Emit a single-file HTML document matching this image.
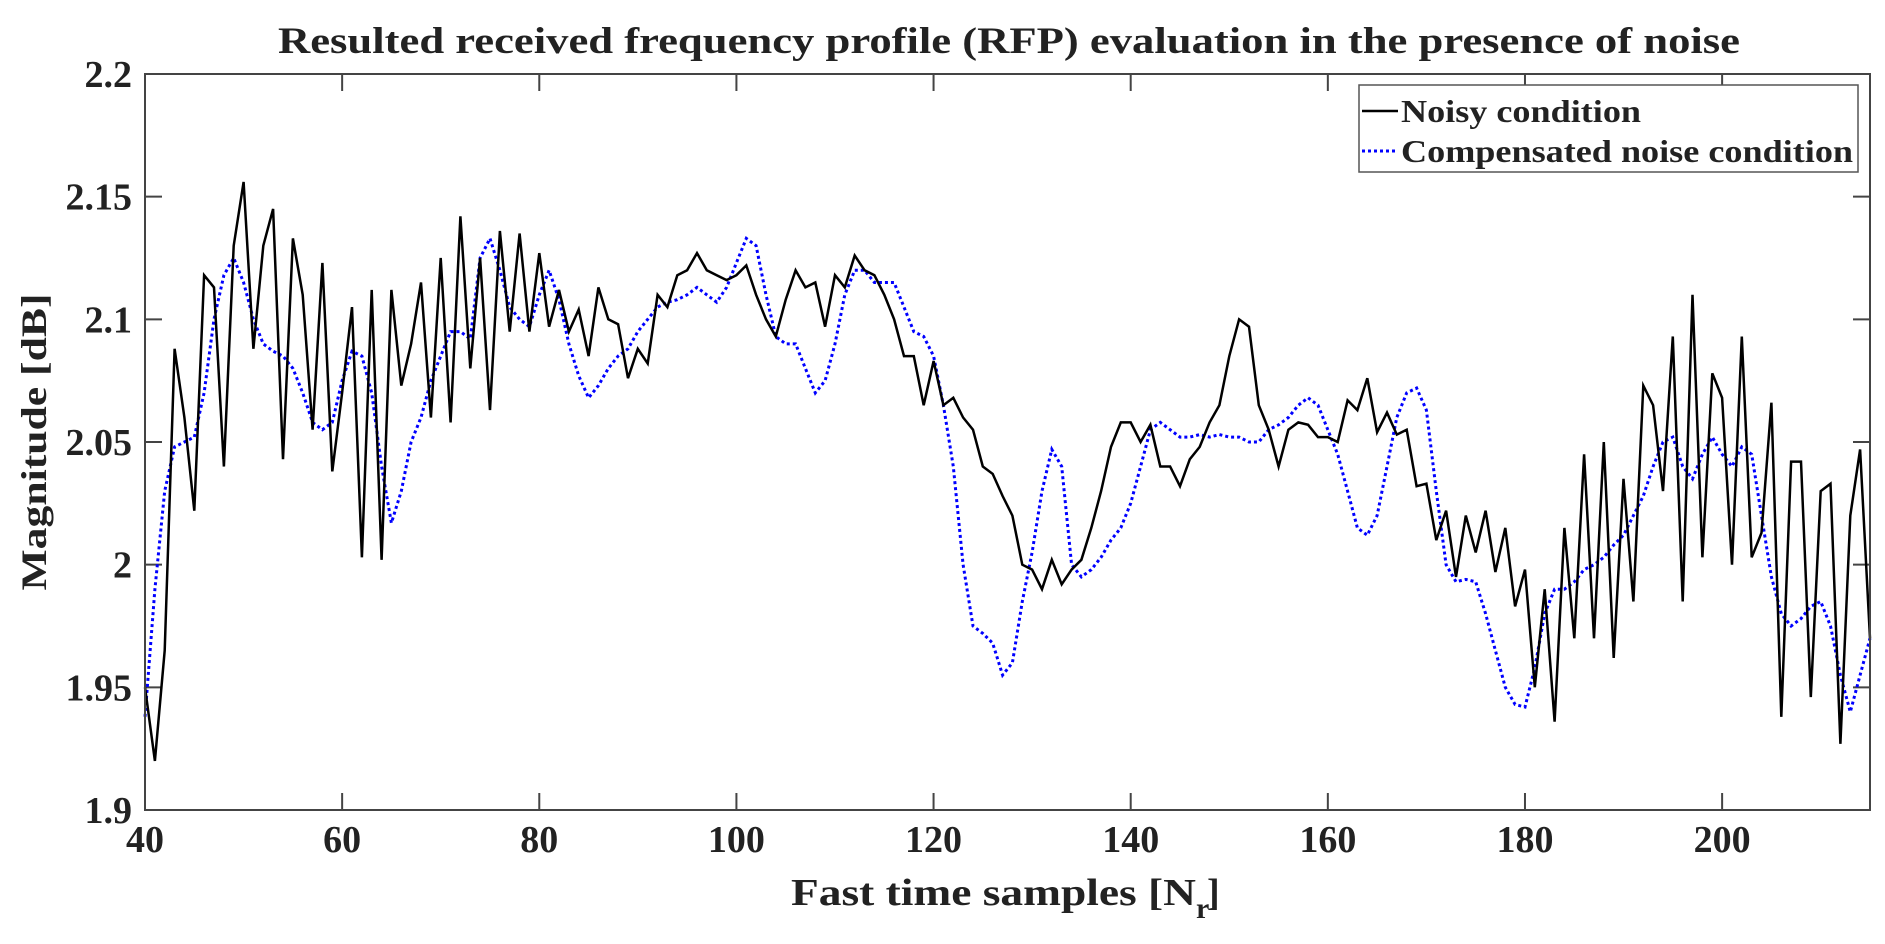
<!DOCTYPE html>
<html><head><meta charset="utf-8"><style>
html,body{margin:0;padding:0;background:#fff;}
svg{display:block;}
text{font-family:"Liberation Serif",serif;font-weight:bold;fill:#222;}
</style></head><body>
<svg id="s" width="1885" height="944" xmlns="http://www.w3.org/2000/svg">
<text x="1009" y="53" font-size="37" text-anchor="middle" textLength="1462" lengthAdjust="spacingAndGlyphs" fill="#000">Resulted received frequency profile (RFP) evaluation in the presence of noise</text>
<g id="ticks" stroke="#444" stroke-width="2"></g>
<g id="lbl" font-size="38"></g>
<polyline id="blue" fill="none" stroke="#0000ff" stroke-width="3" stroke-dasharray="3,3"/>
<polyline id="blk" fill="none" stroke="#000" stroke-width="2.5"/>
<rect x="145" y="74" width="1725" height="736" fill="none" stroke="#444" stroke-width="2"/>
<rect x="1359" y="85" width="499" height="87" fill="#fff" stroke="#555" stroke-width="1.5"/>
<line x1="1362" y1="111" x2="1398" y2="111" stroke="#000" stroke-width="2.5"/>
<line x1="1362" y1="151" x2="1398" y2="151" stroke="#0000ff" stroke-width="3" stroke-dasharray="3,3"/>
<text x="1401" y="122" font-size="32" textLength="240" lengthAdjust="spacingAndGlyphs">Noisy condition</text>
<text x="1401" y="162" font-size="32" textLength="452" lengthAdjust="spacingAndGlyphs">Compensated noise condition</text>
<text transform="translate(46,442) rotate(-90)" font-size="36" text-anchor="middle" textLength="297" lengthAdjust="spacingAndGlyphs">Magnitude [dB]</text>
<text x="791" y="905" font-size="38" textLength="405" lengthAdjust="spacingAndGlyphs">Fast time samples [N</text><text x="1196" y="918" font-size="30">r</text><text x="1207" y="905" font-size="38">]</text>
</svg>
<script>
var X=function(x){return 145+(x-40)*9.857;};
var Y=function(v){return 74+(2.2-v)/0.3*736;};
var n=[1.95,1.92,1.965,2.088,2.06,2.022,2.118,2.113,2.04,2.13,2.156,2.088,2.13,2.145,2.043,2.133,2.11,2.055,2.123,2.038,2.07,2.105,2.003,2.112,2.002,2.112,2.073,2.09,2.115,2.06,2.125,2.058,2.142,2.08,2.125,2.063,2.136,2.095,2.135,2.095,2.127,2.097,2.112,2.095,2.104,2.085,2.113,2.1,2.098,2.076,2.088,2.082,2.11,2.105,2.118,2.12,2.127,2.12,2.118,2.116,2.118,2.122,2.11,2.1,2.093,2.108,2.12,2.113,2.115,2.097,2.118,2.113,2.126,2.12,2.118,2.11,2.1,2.085,2.085,2.065,2.083,2.065,2.068,2.06,2.055,2.04,2.037,2.028,2.02,2.0,1.998,1.99,2.002,1.992,1.998,2.002,2.015,2.03,2.048,2.058,2.058,2.05,2.057,2.04,2.04,2.032,2.043,2.048,2.058,2.065,2.085,2.1,2.097,2.065,2.055,2.04,2.055,2.058,2.057,2.052,2.052,2.05,2.067,2.063,2.076,2.054,2.062,2.053,2.055,2.032,2.033,2.01,2.022,1.995,2.02,2.005,2.022,1.997,2.015,1.983,1.998,1.95,1.99,1.936,2.015,1.97,2.045,1.97,2.05,1.962,2.035,1.985,2.073,2.065,2.03,2.093,1.985,2.11,2.003,2.078,2.068,2.0,2.093,2.003,2.013,2.066,1.938,2.042,2.042,1.946,2.03,2.033,1.927,2.02,2.047,1.97];
var b=[1.938,1.99,2.03,2.048,2.05,2.052,2.07,2.1,2.118,2.125,2.115,2.1,2.09,2.087,2.085,2.08,2.07,2.058,2.055,2.058,2.075,2.087,2.085,2.07,2.04,2.017,2.03,2.05,2.06,2.075,2.085,2.095,2.095,2.092,2.125,2.133,2.12,2.105,2.1,2.097,2.11,2.12,2.108,2.09,2.077,2.068,2.073,2.08,2.085,2.088,2.095,2.1,2.105,2.107,2.108,2.11,2.113,2.11,2.107,2.113,2.123,2.133,2.13,2.11,2.093,2.09,2.09,2.08,2.07,2.075,2.09,2.11,2.12,2.12,2.115,2.115,2.115,2.105,2.095,2.093,2.085,2.065,2.04,2.0,1.975,1.972,1.968,1.955,1.96,1.985,2.005,2.03,2.047,2.04,2.0,1.995,1.998,2.003,2.01,2.015,2.025,2.04,2.055,2.058,2.055,2.052,2.052,2.053,2.052,2.053,2.052,2.052,2.05,2.05,2.055,2.057,2.06,2.065,2.068,2.065,2.055,2.045,2.03,2.015,2.012,2.02,2.04,2.06,2.07,2.072,2.063,2.03,2.0,1.993,1.994,1.993,1.98,1.965,1.95,1.943,1.942,1.958,1.98,1.99,1.99,1.993,1.998,2.0,2.003,2.008,2.012,2.02,2.028,2.04,2.05,2.052,2.04,2.035,2.045,2.052,2.045,2.04,2.048,2.045,2.02,1.995,1.98,1.975,1.978,1.983,1.985,1.975,1.955,1.94,1.955,1.97];
function pts(a){return a.map(function(v,i){return X(40+i).toFixed(1)+","+Y(v).toFixed(1);}).join(" ");}
document.getElementById("blk").setAttribute("points",pts(n));
document.getElementById("blue").setAttribute("points",pts(b));
var t=document.getElementById("ticks"),l=document.getElementById("lbl"),NS="http://www.w3.org/2000/svg";
function el(p,tag,at,txt){var e=document.createElementNS(NS,tag);for(var k in at)e.setAttribute(k,at[k]);if(txt)e.textContent=txt;p.appendChild(e);}
for(var x=40;x<=200;x+=20){var px=X(x);
el(t,"line",{x1:px,y1:810,x2:px,y2:793});el(t,"line",{x1:px,y1:74,x2:px,y2:91});
el(l,"text",{x:px,y:852,"text-anchor":"middle"},String(x));}
var ys=["1.9","1.95","2","2.05","2.1","2.15","2.2"];
ys.forEach(function(s){var py=Y(parseFloat(s));
el(t,"line",{x1:145,y1:py,x2:162,y2:py});el(t,"line",{x1:1870,y1:py,x2:1853,y2:py});
el(l,"text",{x:132,y:py+13,"text-anchor":"end"},s);});
</script>
</body></html>
